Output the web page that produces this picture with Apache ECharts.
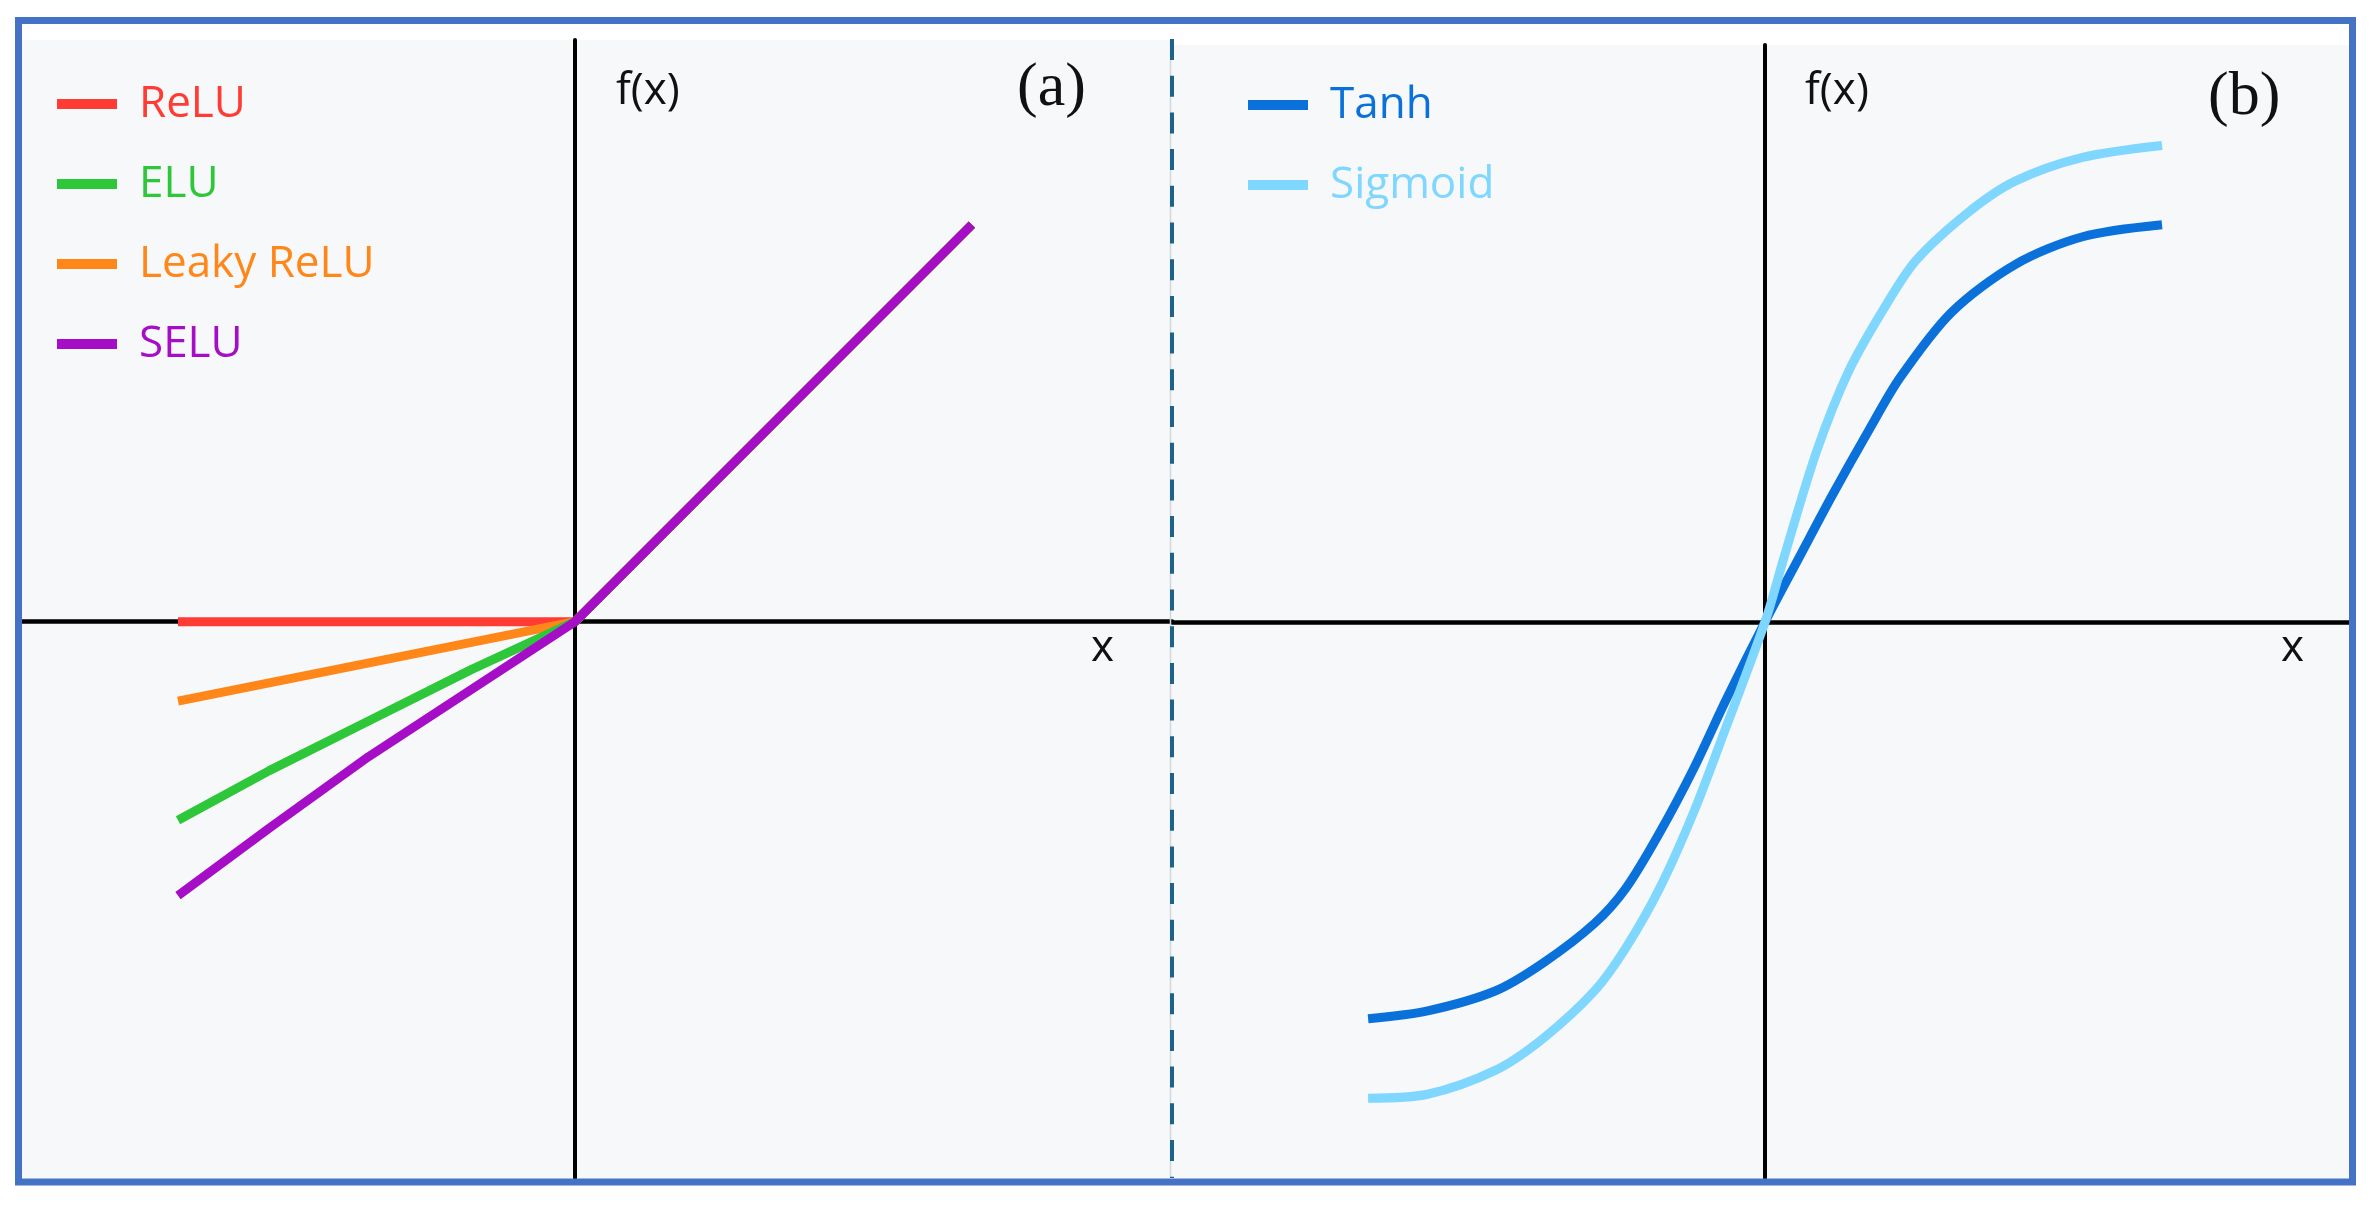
<!DOCTYPE html>
<html>
<head>
<meta charset="utf-8">
<title>Activation functions</title>
<script src="https://cdn.jsdelivr.net/npm/echarts@6/dist/echarts.min.js"></script>
<style>
    html, body { margin: 0; padding: 0; background: #fff; }
    #main { width: 2375px; height: 1208px; }
</style>
</head>
<body>
<div id="main"></div>
<script>
// (a) 左图：[x, f(x)]，1 单位 = 线段半长
var reluData  = [[-1, 0], [0, 0], [1, 1]];
var leakyData = [[-1, -0.2], [0, 0], [1, 1]];
var eluData   = [[-1, -0.5], [-0.77, -0.375], [-0.52, -0.25], [-0.26, -0.12], [0, 0], [1, 1]];
var seluData  = [[-1, -0.69], [-0.77, -0.52], [-0.52, -0.34], [-0.26, -0.17], [0, 0], [1, 1]];

// (b) 右图
var tanhData = [[-1, -1], [-0.85, -0.98], [-0.68, -0.93], [-0.56, -0.86], [-0.43, -0.76], [-0.35, -0.67],
    [-0.265, -0.53], [-0.18, -0.37], [-0.1, -0.2], [0, 0], [0.09, 0.17], [0.17, 0.32], [0.26, 0.48],
    [0.34, 0.615], [0.47, 0.78], [0.63, 0.9], [0.8, 0.97], [1, 1]];
var sigmoidData = [[-1, -1.2], [-0.85, -1.19], [-0.68, -1.13], [-0.56, -1.05], [-0.43, -0.93], [-0.35, -0.82],
    [-0.265, -0.67], [-0.18, -0.48], [-0.1, -0.27], [0, 0], [0.05, 0.17], [0.13, 0.43], [0.21, 0.63],
    [0.3, 0.79], [0.38, 0.91], [0.51, 1.03], [0.63, 1.11], [0.8, 1.17], [1, 1.2]];

var leftNames  = ['ReLU', 'ELU', 'Leaky ReLU', 'SELU'];
var rightNames = ['Tanh', 'Sigmoid'];
var colors = {
    'ReLU': '#FF3B33', 'ELU': '#2EC73A', 'Leaky ReLU': '#FF8719', 'SELU': '#A60DC6',
    'Tanh': '#0A70DA', 'Sigmoid': '#7FD6FF'
};

var font = 'Open Sans';

function xAxis(idx, min, max, gap) {
    return {
        type: 'value', gridIndex: idx, min: min, max: max,
        name: 'x', nameLocation: 'end', nameGap: gap,
        nameTextStyle: { fontFamily: font, fontSize: 44, color: '#111', align: 'left', verticalAlign: 'top', lineHeight: 53 },
        axisLine: { onZero: true, lineStyle: { color: '#000', width: 4.5 } },
        axisTick: { show: false }, axisLabel: { show: false }, splitLine: { show: false }
    };
}
function yAxis(idx, min, max, gap, pad) {
    return {
        type: 'value', gridIndex: idx, min: min, max: max,
        name: 'f(x)', nameLocation: 'end', nameGap: gap,
        nameTextStyle: { fontFamily: font, fontSize: 44, color: '#111', align: 'left', verticalAlign: 'middle', padding: [0, 0, 0, pad] },
        axisLine: { onZero: true, lineStyle: { color: '#000', width: 4 } },
        axisTick: { show: false }, axisLabel: { show: false }, splitLine: { show: false }
    };
}
function line(name, data, idx) {
    return {
        name: name, type: 'line', data: data, xAxisIndex: idx, yAxisIndex: idx,
        color: colors[name], showSymbol: false, symbol: 'none',
        smooth: idx === 1 ? 0.3 : false,
        lineStyle: { color: colors[name], width: 9 }
    };
}
function legend(names, left, top) {
    return {
        orient: 'vertical', left: left, top: top, padding: 0,
        itemWidth: 60, itemHeight: 10, itemGap: 30, icon: 'rect', selectedMode: false,
        textStyle: { fontFamily: font, fontSize: 44, lineHeight: 50, padding: [0, 0, 0, 17] },
        data: names.map(function (n) { return { name: n, textStyle: { color: colors[n] } }; })
    };
}

var myChart = echarts.init(document.getElementById('main'));
myChart.setOption({
    animation: false,
    backgroundColor: '#fff',
    title: [
        { text: '(a)', left: 1017, top: 58, padding: 0, textStyle: { fontFamily: 'Liberation Serif', fontSize: 62, fontWeight: 'normal', color: '#111' } },
        { text: '(b)', left: 2208, top: 67, padding: 0, textStyle: { fontFamily: 'Liberation Serif', fontSize: 62, fontWeight: 'normal', color: '#111' } }
    ],
    legend: [legend(leftNames, 57, 79), legend(rightNames, 1248, 80)],
    grid: [
        { left: 22, top: 40, width: 1150, height: 1138, show: true, backgroundColor: '#F6F8FA', borderWidth: 0, outerBoundsMode: 'none' },
        { left: 1172, top: 45, width: 1177, height: 1133, show: true, backgroundColor: '#F6F8FA', borderWidth: 0, outerBoundsMode: 'none' }
    ],
    xAxis: [xAxis(0, -1.393, 1.504, -81), xAxis(1, -1.494, 1.471, -68)],
    yAxis: [yAxis(0, -1.401, 1.465, -51, 41), yAxis(1, -1.401, 1.453, -46, 40)],
    series: [
        line('ReLU', reluData, 0),
        line('Leaky ReLU', leakyData, 0),
        line('ELU', eluData, 0),
        line('SELU', seluData, 0),
        line('Tanh', tanhData, 1),
        line('Sigmoid', sigmoidData, 1)
    ],
    graphic: [
        // 外框
        { type: 'rect', z: 10, shape: { x: 18.5, y: 20.5, width: 2334, height: 1161.5 },
          style: { fill: null, stroke: '#4472C4', lineWidth: 7 } },
        // 中间分隔虚线
        { type: 'line', z: 1, shape: { x1: 1170.5, y1: 40, x2: 1170.5, y2: 1178 },
          style: { stroke: '#D3D7DB', lineWidth: 1.5 } },
        { type: 'line', z: 1, shape: { x1: 1172, y1: 39, x2: 1172, y2: 1178 },
          style: { stroke: '#1E6289', lineWidth: 4, lineDash: [21, 15.7] } }
    ]
});
</script>
</body>
</html>
